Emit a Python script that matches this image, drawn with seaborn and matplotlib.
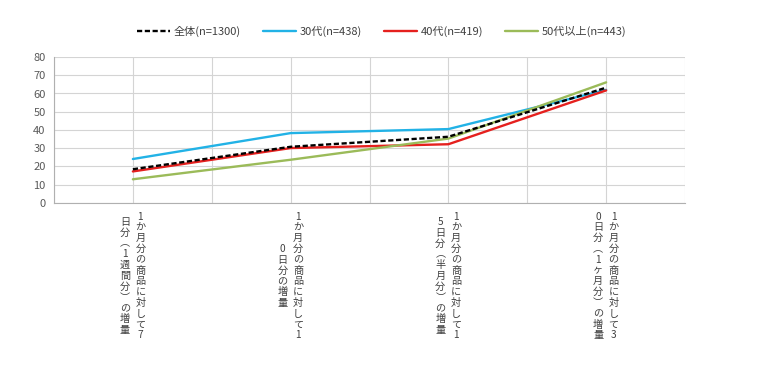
import matplotlib
matplotlib.use("Agg")
import matplotlib.pyplot as plt
import matplotlib.transforms as mtransforms
import seaborn as sns
import pandas as pd

# ---- data ----
categories_right = ["1か月分の商品に対して7", "1か月分の商品に対して1",
                    "1か月分の商品に対して1", "1か月分の商品に対して3"]
categories_left = ["日分︵1週間分︶の増量", "0日分の増量",
                   "5日分︵半月分︶の増量", "0日分︵1ヶ月分︶の増量"]
series_names = ["全体(n=1300)", "30代(n=438)", "40代(n=419)", "50代以上(n=443)"]
v_all = [18.5, 30.8, 36.3, 63.2]
v_30s = [24.1, 38.3, 40.5, 62.0]
v_40s = [17.3, 30.1, 32.2, 61.7]
v_50s = [13.0, 23.7, 35.3, 66.1]
y_ticks = [0, 10, 20, 30, 40, 50, 60, 70, 80]

sns.set_style("white")
plt.rcParams["font.family"] = ["Noto Sans CJK JP", "DejaVu Sans"]

x_pos = [1, 3, 5, 7]
df = pd.DataFrame({
    "x": x_pos * 4,
    "value": v_all + v_30s + v_40s + v_50s,
    "series": sum([[s] * 4 for s in series_names], []),
})

colors = ["#000000", "#22b2e6", "#e5201e", "#9bbb59"]
styles = [(0, (2.2, 1.1)), "-", "-", "-"]
zorders = [5, 3, 3, 4]

fig = plt.figure(figsize=(7.8, 3.72), dpi=100)
ax = fig.add_axes([54 / 780, 1 - 203 / 372, (685 - 54) / 780, (203 - 57) / 372])

for name, c, ls, z in zip(series_names, colors, styles, zorders):
    sub = df[df["series"] == name]
    sns.lineplot(data=sub, x="x", y="value", ax=ax, color=c, linestyle=ls,
                 linewidth=1.7, label=name, zorder=z)

ax.set_xlim(0, 8)
ax.set_ylim(0, 80)
ax.set_yticks(y_ticks)
ax.set_xticks([0, 2, 4, 6, 8])
ax.set_xticks([1, 3, 5, 7], minor=True)
ax.set_xticklabels([])
ax.set_xlabel("")
ax.set_ylabel("")
ax.grid(True, which="both", color="#d4d4d4", linewidth=0.8)
ax.set_axisbelow(True)
ax.tick_params(axis="x", which="major", length=4, color="#b0b0b0", width=0.8, direction="out")
ax.tick_params(axis="x", which="minor", length=0)
ax.tick_params(axis="y", length=3, color="#b0b0b0", width=0.8, labelsize=8,
               labelcolor="#595959", pad=3)
for s in ["top", "right"]:
    ax.spines[s].set_visible(False)
for s in ["left", "bottom"]:
    ax.spines[s].set_color("#b0b0b0")
    ax.spines[s].set_linewidth(0.8)

# vertical category labels
tr = ax.get_xaxis_transform()
tr_r = mtransforms.offset_copy(tr, fig=fig, x=5.4, y=0, units="points")
tr_l = mtransforms.offset_copy(tr, fig=fig, x=-5.8, y=0, units="points")
for xp, r, l in zip(x_pos, categories_right, categories_left):
    ax.text(xp, -0.5, "\n".join(r), transform=tr_r, ha="center", va="center",
            ma="center", fontsize=7.3, linespacing=1.1, color="#404040")
    ax.text(xp, -0.5, "\n".join(l), transform=tr_l, ha="center", va="center",
            ma="center", fontsize=7.3, linespacing=1.1, color="#404040")

ax.legend(loc="center", bbox_to_anchor=(0.519, 1.178), ncol=4, frameon=False,
          fontsize=8, handlelength=3.0, handletextpad=0.3, columnspacing=2.0,
          labelcolor="#404040")

fig.savefig("out.png", dpi=100)
